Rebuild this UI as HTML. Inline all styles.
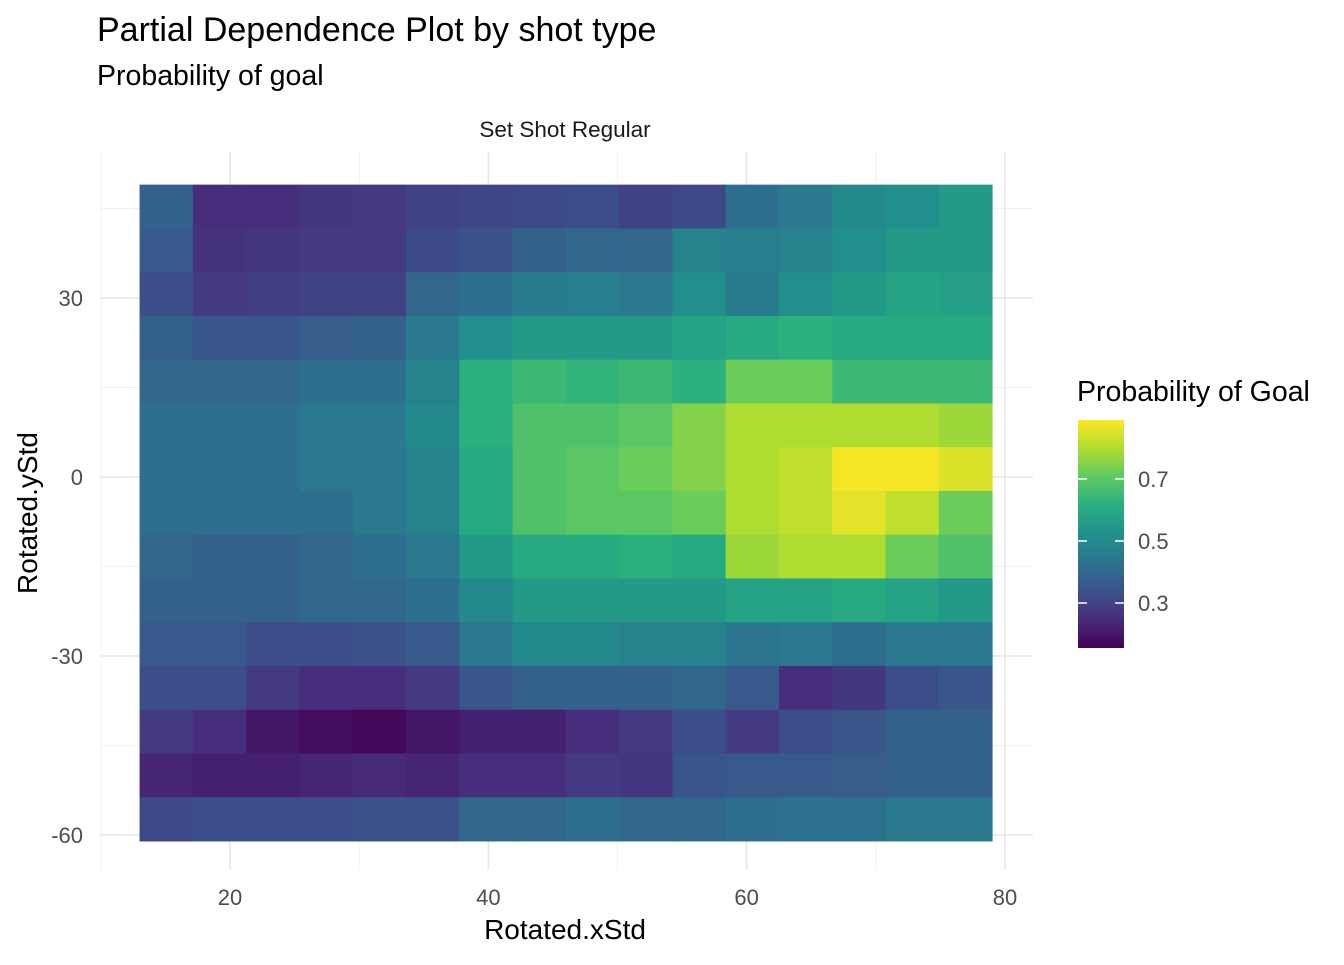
<!DOCTYPE html>
<html><head><meta charset="utf-8">
<style>
body{margin:0;background:#fff;font-family:"Liberation Sans",Arial,sans-serif;}
</style></head>
<body>
<svg id="chart" width="1344" height="960" xmlns="http://www.w3.org/2000/svg">
<defs>
<linearGradient id="vir" x1="0" y1="1" x2="0" y2="0">
<stop offset="0" stop-color="#440154"/><stop offset="0.125" stop-color="#472d7b"/><stop offset="0.25" stop-color="#3b528b"/><stop offset="0.375" stop-color="#2c728e"/><stop offset="0.5" stop-color="#21918c"/><stop offset="0.625" stop-color="#28ae80"/><stop offset="0.75" stop-color="#5ec962"/><stop offset="0.875" stop-color="#addc30"/><stop offset="1" stop-color="#fde725"/>
</linearGradient>
</defs>
<text x="97" y="41" font-size="34" fill="#000">Partial Dependence Plot by shot type</text>
<text x="97" y="85" font-size="28.5" fill="#000">Probability of goal</text>
<text x="565" y="137" font-size="22.5" fill="#1a1a1a" text-anchor="middle">Set Shot Regular</text>
<g id="grid"></g>
<g id="cells"></g>
<g id="axes"></g>
<text x="565" y="939" font-size="28" text-anchor="middle">Rotated.xStd</text>
<text transform="translate(37,513) rotate(-90)" font-size="28" text-anchor="middle">Rotated.yStd</text>
<g>
<text x="1077" y="401" font-size="28.5">Probability of Goal</text>
<rect x="1078" y="420" width="46" height="228" fill="url(#vir)"/>
<g id="legticks"></g>
</g>
</svg>
<script>
const xTicks=[20,40,60,80];
const yTicks=[30,0,-30,-60];
const legendTicks=[0.3,0.5,0.7];
const xMin=13, xMax=79, yMin=-61, yMax=49;
const nCols=16;
const vals=[
[0.38,0.25,0.25,0.27,0.28,0.30,0.31,0.32,0.33,0.30,0.32,0.42,0.45,0.50,0.52,0.55],
[0.36,0.26,0.27,0.28,0.28,0.32,0.34,0.38,0.40,0.40,0.48,0.47,0.48,0.52,0.55,0.55],
[0.33,0.28,0.29,0.30,0.30,0.40,0.42,0.46,0.47,0.45,0.52,0.46,0.52,0.55,0.58,0.57],
[0.38,0.35,0.35,0.37,0.38,0.45,0.52,0.55,0.55,0.55,0.58,0.60,0.62,0.60,0.60,0.60],
[0.40,0.40,0.40,0.42,0.42,0.48,0.62,0.65,0.63,0.65,0.62,0.72,0.72,0.65,0.65,0.65],
[0.42,0.42,0.42,0.45,0.45,0.50,0.62,0.68,0.68,0.70,0.75,0.80,0.80,0.80,0.80,0.78],
[0.42,0.42,0.42,0.45,0.45,0.48,0.60,0.68,0.70,0.72,0.75,0.80,0.82,0.88,0.88,0.85],
[0.42,0.42,0.42,0.42,0.45,0.48,0.60,0.68,0.70,0.70,0.72,0.80,0.82,0.86,0.82,0.72],
[0.40,0.38,0.38,0.40,0.42,0.45,0.55,0.60,0.60,0.62,0.60,0.78,0.80,0.80,0.72,0.68],
[0.38,0.38,0.38,0.40,0.40,0.42,0.50,0.55,0.55,0.55,0.55,0.58,0.58,0.60,0.58,0.55],
[0.36,0.36,0.33,0.33,0.34,0.36,0.45,0.50,0.50,0.48,0.48,0.44,0.45,0.42,0.45,0.45],
[0.33,0.33,0.28,0.25,0.25,0.28,0.35,0.38,0.38,0.38,0.40,0.36,0.25,0.27,0.33,0.35],
[0.28,0.25,0.20,0.18,0.17,0.20,0.22,0.22,0.25,0.28,0.33,0.28,0.33,0.35,0.38,0.38],
[0.23,0.22,0.22,0.23,0.24,0.23,0.25,0.25,0.28,0.27,0.35,0.36,0.36,0.37,0.38,0.38],
[0.32,0.33,0.33,0.33,0.34,0.34,0.40,0.40,0.42,0.40,0.40,0.42,0.43,0.43,0.45,0.45]
];
const vMin=0.155, vMax=0.89;
const X=v=>230+(v-20)*(1005-230)/60;
const Y=v=>477-(v)*(477-298)/30;
const L=v=>648-(v-vMin)/(vMax-vMin)*228;
const stops=[[68,1,84],[71,45,123],[59,82,139],[44,114,142],[33,145,140],[40,174,128],[94,201,98],[173,220,48],[253,231,37]];
function vir(v){let t=Math.max(0,Math.min(1,(v-vMin)/(vMax-vMin)))*(stops.length-1);let i=Math.min(Math.floor(t),stops.length-2),f=t-i;const c=stops[i].map((a,k)=>Math.round(a+(stops[i+1][k]-a)*f));return `rgb(${c})`;}
const NS="http://www.w3.org/2000/svg";
function mk(tag,attrs,parent){const e=document.createElementNS(NS,tag);for(const k in attrs)e.setAttribute(k,attrs[k]);parent.appendChild(e);return e;}
const grid=document.getElementById('grid');
[10,30,50,70].forEach(v=>{const l=mk('line',{x1:X(v),x2:X(v),y1:152,y2:870,stroke:'#f0f0f0','stroke-width':1},grid);

});
xTicks.forEach(v=>{const l=mk('line',{x1:X(v),x2:X(v),y1:152,y2:870,stroke:'#e6e6e6','stroke-width':1.5},grid);

});
[45,15,-15,-45].forEach(v=>{const l=mk('line',{x1:101,x2:1033,y1:Y(v),y2:Y(v),stroke:'#f0f0f0','stroke-width':1},grid);

});
yTicks.forEach(v=>{const l=mk('line',{x1:101,x2:1033,y1:Y(v),y2:Y(v),stroke:'#e6e6e6','stroke-width':1.5},grid);

});
const cells=document.getElementById('cells');
const nRows=vals.length, cw=(xMax-xMin)/nCols, ch=(yMax-yMin)/nRows;
vals.forEach((row,r)=>row.forEach((v,c)=>{
const x0=X(xMin+c*cw), x1=X(xMin+(c+1)*cw), y0=Y(yMax-r*ch), y1=Y(yMax-(r+1)*ch);
const rc=mk('rect',{x:x0,y:y0,width:x1-x0+0.5,height:y1-y0+0.5,fill:vir(v)},cells);


}));
const axes=document.getElementById('axes');
xTicks.forEach(v=>{const t=mk('text',{x:X(v),y:905,'font-size':22,fill:'#4d4d4d','text-anchor':'middle'},axes);t.textContent=v;

});
yTicks.forEach(v=>{const t=mk('text',{x:83,y:Y(v)+8,'font-size':22,fill:'#4d4d4d','text-anchor':'end'},axes);t.textContent=v;

});
const lt=document.getElementById('legticks');
legendTicks.forEach(v=>{
const a=mk('line',{x1:1078,x2:1087,y1:L(v),y2:L(v),stroke:'#fff','stroke-width':1.5},lt);


const b=mk('line',{x1:1115,x2:1124,y1:L(v),y2:L(v),stroke:'#fff','stroke-width':1.5},lt);


const t=mk('text',{x:1138,y:L(v)+8,'font-size':22,fill:'#4d4d4d'},lt);t.textContent=v.toFixed(1);

});
</script>
</body></html>
